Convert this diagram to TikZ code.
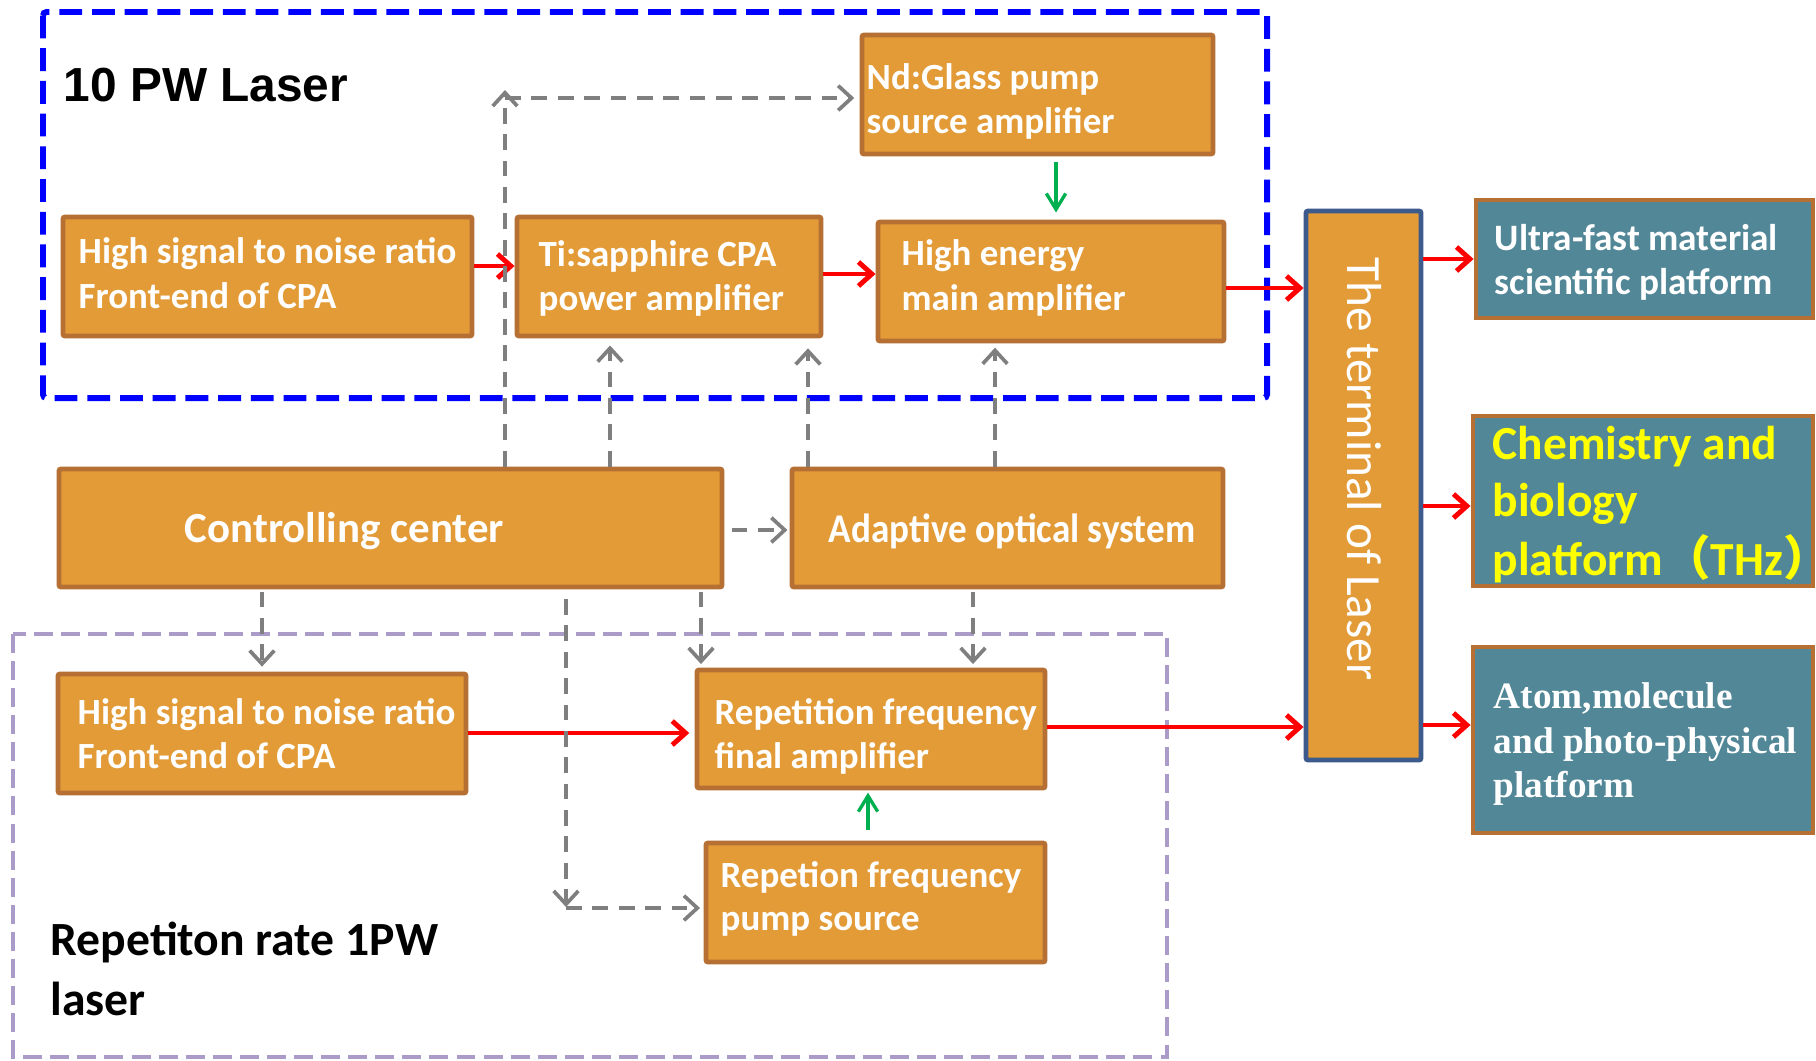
\documentclass[tikz,border=0pt]{standalone}
\usepackage{fontspec}
\setmainfont{Carlito}
\newfontfamily\arialf{Liberation Sans}
\newfontfamily\timesf{Liberation Serif}
\newfontfamily\cjkf{Noto Sans CJK SC}
\usetikzlibrary{arrows.meta,fit}
\definecolor{orF}{HTML}{E39B38}
\definecolor{brB}{HTML}{B67034}
\definecolor{tealF}{HTML}{528798}
\definecolor{termB}{HTML}{3C5A8C}
\definecolor{lavC}{HTML}{AA9BC8}
\definecolor{grayC}{HTML}{7F7F7F}
\definecolor{grnC}{HTML}{00B050}
\definecolor{yelC}{HTML}{FFFF00}
\tikzset{
  obox/.style={draw=brB, fill=orF, line width=1.4pt, inner sep=0pt, rounded corners=0.6pt},
  tbox/.style={draw=brB, fill=tealF, line width=1.4pt, inner sep=0pt},
  btxt/.style={anchor=base west, inner sep=0pt, text=white, font=\bfseries\fontsize{10.5}{12}\selectfont},
  bigtxt/.style={anchor=base west, inner sep=0pt, text=white, font=\bfseries\fontsize{12.2}{14}\selectfont},
  garr/.style={draw=grayC, line width=1.05pt, dash pattern=on 4.5pt off 3pt, -{Straight Barb[length=3.8pt,width=7pt]}},
  rarr/.style={draw=red, line width=1.4pt, -{Straight Barb[length=3.8pt,width=6.8pt]}},
  gnarr/.style={draw=grnC, line width=0.95pt, -{Straight Barb[length=4.5pt,width=5.5pt]}},
}
\begin{document}
\begin{tikzpicture}[x=0.01cm,y=-0.01cm]
\useasboundingbox (0,0) rectangle (1816,1060);
\fill[white] (0,0) rectangle (1816,1060);
% frames
\draw[blue, line width=1.7pt, dash pattern=on 6.5pt off 2.8pt, rounded corners=1pt] (43,12) rectangle (1267,398);
\draw[lavC, line width=1.1pt, dash pattern=on 5.4pt off 2.3pt] (13,634) rectangle (1167,1057);
\node[anchor=base west, inner sep=0pt, font=\arialf\bfseries\fontsize{13.6}{16}\selectfont] (tenpw) at (63,101) {10 PW Laser};
\node[anchor=base west, inner sep=0pt, font=\bfseries\fontsize{13.55}{16}\selectfont] (rep1) at (50,955) {Repetiton rate 1PW};
\node[anchor=base west, inner sep=0pt, font=\bfseries\fontsize{13.55}{16}\selectfont] (rep2) at (50,1015) {laser};
% boxes
\node[obox, fit={(63,217) (472,336)}] (hsnrA) {};
\node[obox, fit={(517,217) (821,336)}] (ti) {};
\node[obox, fit={(862,35) (1213,154)}] (nd) {};
\node[obox, fit={(878,222) (1224,341)}] (he) {};
\node[obox, draw=termB, fit={(1306,211) (1421,760)}] (term) {};
\node[tbox, fit={(1476,200) (1813,318)}] (uf) {};
\node[tbox, fit={(1473,416) (1813,586)}] (ch) {};
\node[tbox, fit={(1473,647) (1813,833)}] (at) {};
\node[obox, fit={(59,469) (722,587)}] (cc) {};
\node[obox, fit={(792,469) (1223,587)}] (ao) {};
\node[obox, fit={(58,674) (466,793)}] (hsnrB) {};
\node[obox, fit={(697,670) (1045,788)}] (rf) {};
\node[obox, fit={(706,843) (1045,962)}] (rp) {};
% box texts
\node[btxt] (t1a) at (78,263) {High signal to noise ratio};
\node[btxt] (t1b) at (78,308) {Front-end of CPA};
\node[btxt] (t2a) at (538,266) {Ti:sapphire CPA};
\node[btxt] (t2b) at (538,310) {power amplifier};
\node[btxt] (t3a) at (866,89) {Nd:Glass pump};
\node[btxt] (t3b) at (866,133) {source amplifier};
\node[btxt] (t4a) at (901,265) {High energy};
\node[btxt] (t4b) at (901,310) {main amplifier};
\node[bigtxt] (t5) at (184,542) {Controlling center};
\node[bigtxt, font=\bfseries\fontsize{11.6}{14}\selectfont] (t6) at (828,542) {\scalebox{0.91}[1]{Adaptive optical system}};
\node[btxt] (t7a) at (77,724) {High signal to noise ratio};
\node[btxt] (t7b) at (77,768) {Front-end of CPA};
\node[btxt] (t8a) at (714,724) {Repetition frequency};
\node[btxt] (t8b) at (714,768) {final amplifier};
\node[btxt] (t9a) at (720,887) {Repetion frequency};
\node[btxt] (t9b) at (720,930) {pump source};
\node[rotate=-90, inner sep=0pt, text=white, font=\fontsize{14}{17}\selectfont] (tt) at (1364,469) {The terminal of Laser};
\node[anchor=base west, inner sep=0pt, text=white, font=\bfseries\fontsize{10.6}{12}\selectfont] (u1) at (1494,250) {Ultra-fast material};
\node[anchor=base west, inner sep=0pt, text=white, font=\bfseries\fontsize{10.6}{12}\selectfont] (u2) at (1494,294) {scientific platform};
\node[anchor=base west, inner sep=0pt, text=yelC, font=\bfseries\fontsize{13.5}{15}\selectfont] (c1) at (1492,459) {Chemistry and};
\node[anchor=base west, inner sep=0pt, text=yelC, font=\bfseries\fontsize{13.5}{15}\selectfont] (c2) at (1492,516) {biology};
\node[anchor=base west, inner sep=0pt, text=yelC, font=\bfseries\fontsize{13.5}{15}\selectfont] (c3) at (1492,575) {platform{\cjkf （}THz{\cjkf ）}};
\node[anchor=base west, inner sep=0pt, text=white, font=\timesf\bfseries\fontsize{10.6}{13}\selectfont] (a1) at (1493,708) {Atom,molecule};
\node[anchor=base west, inner sep=0pt, text=white, font=\timesf\bfseries\fontsize{10.6}{13}\selectfont] (a2) at (1493,753) {and photo-physical};
\node[anchor=base west, inner sep=0pt, text=white, font=\timesf\bfseries\fontsize{10.6}{13}\selectfont] (a3) at (1493,797) {platform};
% level coordinates
\coordinate (r1) at (0,266);
\coordinate (r2) at (0,274);
\coordinate (r3) at (0,288);
\coordinate (r4) at (0,259);
\coordinate (r5) at (0,506);
\coordinate (r6) at (0,725);
\coordinate (r7) at (0,733);
\coordinate (r8) at (0,727);
% red arrows
\draw[rarr] (hsnrA.east |- r1) -- (ti.west |- r1);
\draw[rarr] (ti.east |- r2) -- (he.west |- r2);
\draw[rarr] (he.east |- r3) -- (term.west |- r3);
\draw[rarr] (term.east |- r4) -- (uf.west |- r4);
\draw[rarr] (term.east |- r5) -- (ch.west |- r5);
\draw[rarr] (term.east |- r6) -- (at.west |- r6);
\draw[rarr] (hsnrB.east |- r7) -- ([xshift=-1.5pt]rf.west |- r7);
\draw[rarr] (rf.east |- r8) -- (term.west |- r8);
% green arrows
\coordinate (gx1) at (1056,0);
\coordinate (gx2) at (868,0);
\draw[gnarr, shorten <=1.5pt, shorten >=2pt] (nd.south -| gx1) -- (he.north -| gx1);
\draw[gnarr, shorten <=3pt, shorten >=0.6pt] (rp.north -| gx2) -- (rf.south -| gx2);
% gray dashed arrows
\coordinate (gtop) at (505,90);
\coordinate (gcor) at (505,98);
\draw[garr] (cc.north -| gtop) -- (gtop);
\draw[garr] (gcor) -- ([xshift=-1.5pt]nd.west |- gcor);
\coordinate (x610) at (610,0);
\coordinate (x808) at (808,0);
\coordinate (x995) at (995,0);
\coordinate (x262) at (262,0);
\coordinate (x701) at (701,0);
\coordinate (x973) at (973,0);
\coordinate (y530) at (0,530);
\draw[garr, shorten >=2pt] (cc.north -| x610) -- (ti.south -| x610);
\draw[garr, shorten >=2.8pt] (ao.north -| x808) -- (ti.south -| x808);
\draw[garr, shorten >=1.2pt] (ao.north -| x995) -- (he.south -| x995);
\draw[garr, shorten <=2pt, shorten >=0.6pt] (cc.east |- y530) -- (ao.west |- y530);
\draw[garr, shorten <=0.6pt, shorten >=1.4pt] (cc.south -| x262) -- (hsnrB.north -| x262);
\draw[garr, shorten <=0.6pt, shorten >=1pt] (cc.south -| x701) -- (rf.north -| x701);
\draw[garr, shorten <=0.6pt, shorten >=1pt] (ao.south -| x973) -- (rf.north -| x973);
\coordinate (gs) at (566,599);
\coordinate (gb) at (566,907);
\coordinate (gc2) at (566,908);
\draw[garr] (gs) -- (gb);
\draw[garr] (gc2) -- ([xshift=-1pt]rp.west |- gc2);
\end{tikzpicture}
\end{document}
